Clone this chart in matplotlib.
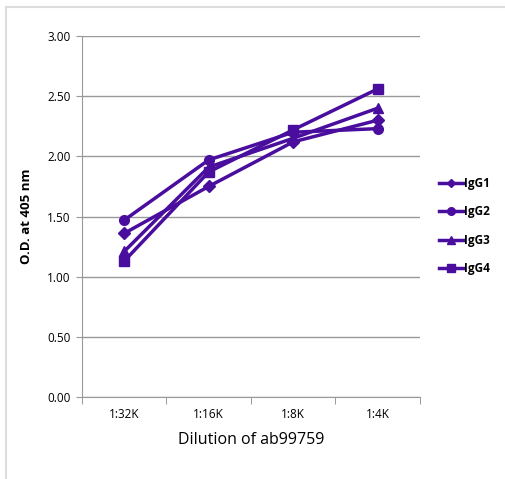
import matplotlib.pyplot as plt
from matplotlib.lines import Line2D

plt.rcParams["font.family"] = ["Open Sans", "DejaVu Sans"]

dilutions = ["1:32K", "1:16K", "1:8K", "1:4K"]
igg1 = [1.36, 1.75, 2.12, 2.30]
igg2 = [1.47, 1.97, 2.20, 2.23]
igg3 = [1.21, 1.91, 2.15, 2.40]
igg4 = [1.13, 1.87, 2.22, 2.56]

series = [("IgG1", igg1, "D"), ("IgG2", igg2, "o"), ("IgG3", igg3, "^"), ("IgG4", igg4, "s")]
color = "#4A0E9E"

fig = plt.figure(figsize=(5.06, 4.79), dpi=100)
ax = fig.add_axes([0.162, 0.171, 0.668, 0.754])

x = list(range(len(dilutions)))
handles = []
for name, vals, mk in series:
    ms = 6 if mk == "D" else 7
    ax.plot(x, vals, color=color, lw=2.5, marker=mk, ms=ms, zorder=3)
    handles.append(Line2D([], [], color=color, lw=2.5, marker=mk, ms=ms - 1.5, label=name))

ax.set_xlim(-0.5, 3.5)
ax.set_ylim(0, 3)
ax.set_yticks([0, 0.5, 1, 1.5, 2, 2.5, 3])
ax.set_yticklabels([f"{v:.2f}" for v in ax.get_yticks()], fontsize=8.5)
ax.set_xticks(x)
ax.set_xticklabels(dilutions, fontsize=8.5)
ax.set_xticks([-0.5, 0.5, 1.5, 2.5, 3.5], minor=True)
ax.tick_params(axis="x", which="major", length=0, pad=8)
ax.tick_params(axis="x", which="minor", length=5, color="#888888")
ax.tick_params(axis="y", length=4, color="#999999", pad=4)
ax.grid(axis="y", color="#999999", lw=1)
ax.set_axisbelow(True)
for s in ["top", "right"]:
    ax.spines[s].set_visible(False)
ax.spines["left"].set_color("#999999")
ax.spines["bottom"].set_color("#999999")

ax.set_ylabel("O.D. at 405 nm", fontsize=9.5, fontweight="bold", labelpad=10)
ax.set_xlabel("Dilution of ab99759", fontsize=11.5, labelpad=8)

fig.legend(handles=handles, loc="center left", bbox_to_anchor=(0.868, 0.528),
           frameon=False, prop={"weight": "bold", "size": 8.5},
           handlelength=2.0, labelspacing=1.3, handletextpad=0.1,
           borderaxespad=0, borderpad=0)

fig.lines.append(Line2D([0.012, 0.012], [0.0, 0.985], transform=fig.transFigure,
                        color="#dddddd", lw=1.5))
fig.lines.append(Line2D([0.012, 1.0], [0.985, 0.985], transform=fig.transFigure,
                        color="#dddddd", lw=1.5))

fig.savefig("out.png", dpi=100)
